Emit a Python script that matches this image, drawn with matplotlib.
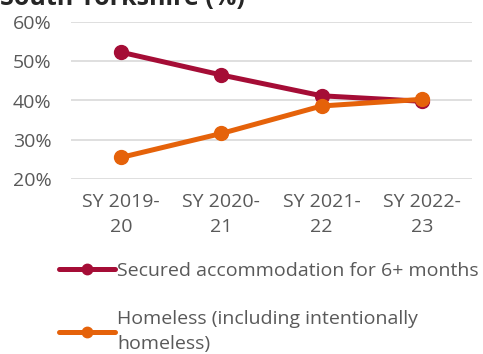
import matplotlib.pyplot as plt
from matplotlib.ticker import PercentFormatter

plt.rcParams['font.family'] = ['Open Sans', 'DejaVu Sans']

years = ["SY 2019-\n20", "SY 2020-\n21", "SY 2021-\n22", "SY 2022-\n23"]
secured = [52.3, 46.5, 41.2, 39.8]
homeless = [25.5, 31.6, 38.6, 40.3]

series_names = ["Secured accommodation for 6+ months",
                "Homeless (including intentionally\nhomeless)"]
colours = ["#A50D36", "#E5620A"]

fig = plt.figure(figsize=(4.83, 3.54), dpi=100)
ax = fig.add_axes([71 / 483, 1 - 179 / 354, 401 / 483, 157 / 354])

x = range(len(years))
lines = []
for values, colour, name in zip([secured, homeless], colours, series_names):
    line, = ax.plot(x, values, color=colour, linewidth=3.6, marker="o",
                    markersize=10, solid_capstyle="round", label=name, zorder=3)
    lines.append(line)

ax.set_xlim(-0.5, len(years) - 0.5)
ax.set_ylim(20, 60)
ax.set_yticks([20, 30, 40, 50, 60])
ax.yaxis.set_major_formatter(PercentFormatter(decimals=0))
ax.set_xticks(list(x))
ax.set_xticklabels(years, linespacing=1.5)
ax.grid(axis="y", color="#D9D9D9", linewidth=1.2)
ax.set_axisbelow(True)
for spine in ax.spines.values():
    spine.set_visible(False)
ax.tick_params(length=0, labelsize=14, colors="#595959")
ax.tick_params(axis="y", pad=14)
ax.tick_params(axis="x", pad=10)

fig.text(0.0, 1 - 5 / 354, "South Yorkshire (%)", fontsize=18, fontweight="bold",
         color="#262626", va="baseline", ha="left")

leg = fig.legend(handles=lines, loc="upper left", bbox_to_anchor=(51 / 483, 1 - 254 / 354),
                 frameon=False, fontsize=14, labelcolor="#595959", handlelength=2.9,
                 handletextpad=0.1, labelspacing=1.55, borderaxespad=0, markerscale=0.75)
for text in leg.get_texts():
    text.set_linespacing(1.5)

fig.savefig("out.png", dpi=100)
